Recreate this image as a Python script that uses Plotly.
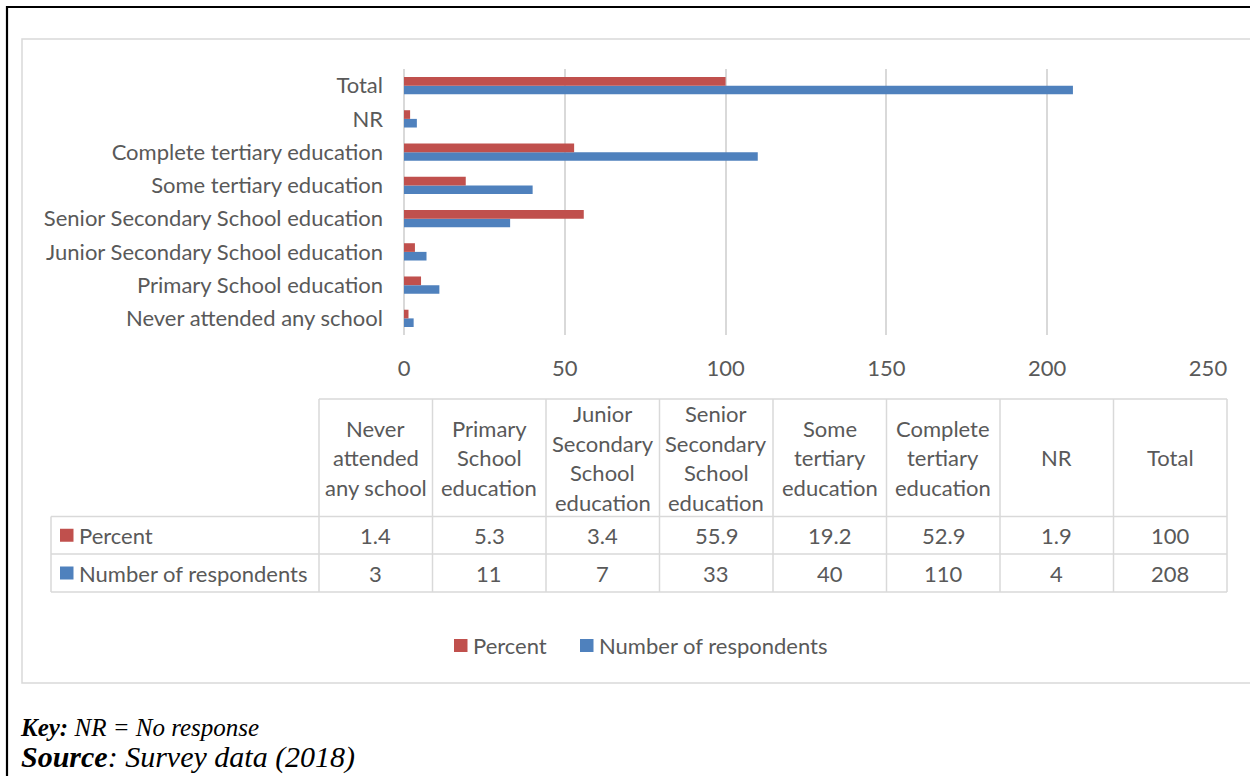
import plotly.graph_objects as go

# ---------------- data ----------------
categories = [
    "Never attended any school",
    "Primary School education",
    "Junior Secondary School education",
    "Senior Secondary School education",
    "Some tertiary education",
    "Complete tertiary education",
    "NR",
    "Total",
]
table_headers = [
    "Never<br>attended<br>any school",
    "Primary<br>School<br>education",
    "Junior<br>Secondary<br>School<br>education",
    "Senior<br>Secondary<br>School<br>education",
    "Some<br>tertiary<br>education",
    "Complete<br>tertiary<br>education",
    "NR",
    "Total",
]
percent = [1.4, 5.3, 3.4, 55.9, 19.2, 52.9, 1.9, 100]
respondents = [3, 11, 7, 33, 40, 110, 4, 208]
percent_labels = ["1.4", "5.3", "3.4", "55.9", "19.2", "52.9", "1.9", "100"]
respondent_labels = ["3", "11", "7", "33", "40", "110", "4", "208"]
series_names = ["Percent", "Number of respondents"]
x_ticks = [0, 50, 100, 150, 200, 250]
key_text = "<b><i>Key:</i></b><i> NR = No response</i>"
source_text = "<b><i>Source</i></b><i>: Survey data (2018)</i>"

# ---------------- styling ----------------
W, H = 1250, 776
RED = "#C0504D"
BLUE = "#4F81BD"
TXT = "#595959"
GRID = "#D9D9D9"
FONT = "Lato"
FS = 22


def X(px):
    return px / W


def Y(py):
    return 1 - py / H


fig = go.Figure()
fig.add_trace(go.Bar(y=categories, x=respondents, orientation="h",
                     name=series_names[1], marker=dict(color=BLUE, line=dict(width=0)),
                     showlegend=False))
fig.add_trace(go.Bar(y=categories, x=percent, orientation="h",
                     name=series_names[0], marker=dict(color=RED, line=dict(width=0)),
                     showlegend=False))

shapes = []
annotations = []

# outer black border (top and left)
shapes.append(dict(type="line", xref="paper", yref="paper", x0=X(7), x1=X(1260), y0=Y(7), y1=Y(7),
                   line=dict(color="black", width=2.2)))
shapes.append(dict(type="line", xref="paper", yref="paper", x0=X(7), x1=X(7), y0=Y(6), y1=Y(790),
                   line=dict(color="black", width=2.2)))
# inner chart frame
shapes.append(dict(type="rect", xref="paper", yref="paper", x0=X(22), x1=X(1260), y0=Y(39), y1=Y(683),
                   line=dict(color=GRID, width=1.5), fillcolor="rgba(0,0,0,0)"))

# ---------------- data table ----------------
col_left = 319
col_w = 113.5
lab_left = 51
hdr_top, hdr_bot = 399, 516.5
r1_bot, r2_bot = 554, 592
tbl_right = col_left + col_w * len(categories)
bl = dict(color=GRID, width=1.5)

# horizontal lines
shapes.append(dict(type="line", xref="paper", yref="paper", x0=X(col_left), x1=X(tbl_right),
                   y0=Y(hdr_top), y1=Y(hdr_top), line=bl))
for yy in (hdr_bot, r1_bot, r2_bot):
    shapes.append(dict(type="line", xref="paper", yref="paper", x0=X(lab_left), x1=X(tbl_right),
                       y0=Y(yy), y1=Y(yy), line=bl))
# vertical lines
shapes.append(dict(type="line", xref="paper", yref="paper", x0=X(lab_left), x1=X(lab_left),
                   y0=Y(hdr_bot), y1=Y(r2_bot), line=bl))
for i in range(len(categories) + 1):
    xx = col_left + col_w * i
    shapes.append(dict(type="line", xref="paper", yref="paper", x0=X(xx), x1=X(xx),
                       y0=Y(hdr_top), y1=Y(r2_bot), line=bl))

line_sp = 29.5
hdr_mid = (hdr_top + hdr_bot) / 2
r1_mid = (hdr_bot + r1_bot) / 2
r2_mid = (r1_bot + r2_bot) / 2
for i, hdr in enumerate(table_headers):
    cx = col_left + col_w * (i + 0.5)
    lines = hdr.split("<br>")
    n = len(lines)
    for j, ln in enumerate(lines):
        cy = hdr_mid + (j - (n - 1) / 2) * line_sp
        annotations.append(dict(xref="paper", yref="paper", x=X(cx), y=Y(cy), text=ln,
                                showarrow=False, xanchor="center", yanchor="middle",
                                font=dict(family=FONT, size=FS, color=TXT)))
    annotations.append(dict(xref="paper", yref="paper", x=X(cx), y=Y(r1_mid), text=percent_labels[i],
                            showarrow=False, xanchor="center", yanchor="middle",
                            font=dict(family=FONT, size=FS, color=TXT)))
    annotations.append(dict(xref="paper", yref="paper", x=X(cx), y=Y(r2_mid), text=respondent_labels[i],
                            showarrow=False, xanchor="center", yanchor="middle",
                            font=dict(family=FONT, size=FS, color=TXT)))

# row labels with legend keys
for name, col, cy in ((series_names[0], RED, r1_mid), (series_names[1], BLUE, r2_mid)):
    shapes.append(dict(type="rect", xref="paper", yref="paper", x0=X(60), x1=X(73.5),
                       y0=Y(cy - 6.5), y1=Y(cy + 6.5), line=dict(width=0), fillcolor=col))
    annotations.append(dict(xref="paper", yref="paper", x=X(77), y=Y(cy), text=name,
                            showarrow=False, xanchor="left", yanchor="middle",
                            font=dict(family=FONT, size=FS, color=TXT)))

# bottom legend
leg_y = 645.5
for name, col, x0 in ((series_names[0], RED, 454), (series_names[1], BLUE, 580)):
    shapes.append(dict(type="rect", xref="paper", yref="paper", x0=X(x0), x1=X(x0 + 13.5),
                       y0=Y(leg_y - 6.5), y1=Y(leg_y + 6.5), line=dict(width=0), fillcolor=col))
    annotations.append(dict(xref="paper", yref="paper", x=X(x0 + 17), y=Y(leg_y), text=name,
                            showarrow=False, xanchor="left", yanchor="middle",
                            font=dict(family=FONT, size=FS, color=TXT)))

# key / source (one two-line note)
note = ("<span style='font-size:25px'>" + key_text + "</span><br>"
        "<span style='font-size:30px'>" + source_text + "</span>")
annotations.append(dict(xref="paper", yref="paper", x=X(19), y=Y(775), text=note,
                        showarrow=False, xanchor="left", yanchor="bottom", align="left",
                        borderpad=0,
                        font=dict(family="Liberation Serif", size=23.5, color="black")))

fig.update_layout(
    width=W, height=H,
    autosize=False,
    margin=dict(l=0, r=0, t=0, b=0, pad=0, autoexpand=False),
    paper_bgcolor="white", plot_bgcolor="white",
    barmode="group", bargap=0.48, bargroupgap=0,
    showlegend=False,
    shapes=shapes, annotations=annotations,
    font=dict(family=FONT, size=FS, color=TXT),
    xaxis=dict(domain=[X(404), X(1208)], range=[0, 250], tickvals=x_ticks,
               showgrid=True, gridcolor=GRID, gridwidth=1.5,
               zeroline=True, zerolinecolor=GRID, zerolinewidth=1.5,
               showline=False, ticks="", ticklabelstandoff=18, automargin=False,
               tickfont=dict(family=FONT, size=FS, color=TXT), fixedrange=True),
    yaxis=dict(domain=[Y(335), Y(69)], type="category", categoryorder="array",
               categoryarray=categories, showgrid=False, zeroline=False, showline=False,
               ticks="", ticklabelstandoff=20, automargin=False,
               tickfont=dict(family=FONT, size=FS, color=TXT), fixedrange=True),
)

fig.write_html("out.html")
